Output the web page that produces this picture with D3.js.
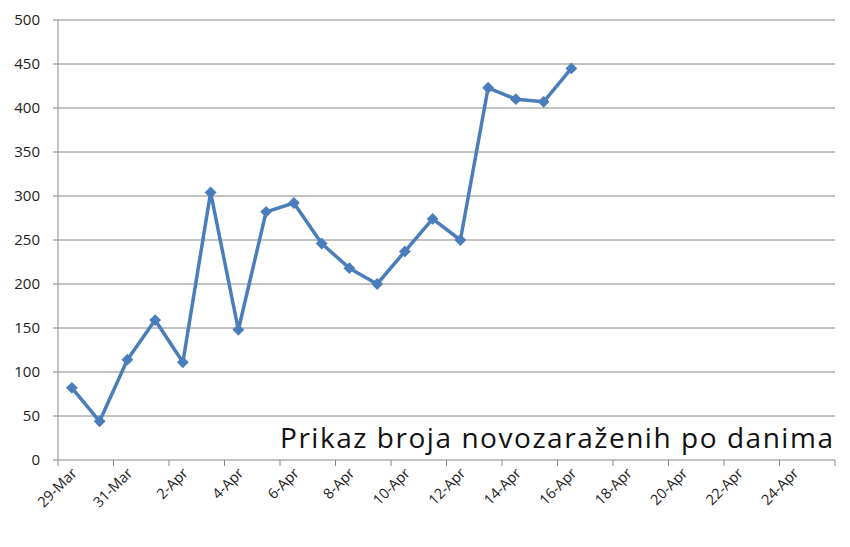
<!DOCTYPE html><html><head><meta charset="utf-8">
<script src="https://cdn.jsdelivr.net/npm/d3@7"></script>
<style>body{margin:0;background:#fff}text{font-family:"Open Sans",sans-serif}</style></head><body>
<svg id="c" width="850" height="547"></svg>
<script>
const categories=["29-Mar","30-Mar","31-Mar","1-Apr","2-Apr","3-Apr","4-Apr","5-Apr","6-Apr","7-Apr","8-Apr","9-Apr","10-Apr","11-Apr","12-Apr","13-Apr","14-Apr","15-Apr","16-Apr","17-Apr","18-Apr","19-Apr","20-Apr","21-Apr","22-Apr","23-Apr","24-Apr","25-Apr"];
const values=[82,44,114,159,111,304,148,282,292,246,218,200,237,274,250,423,410,407,445];
const yTicks=[0,50,100,150,200,250,300,350,400,450,500];
const title="Prikaz broja novozaraženih po danima";
const svg=d3.select("#c");
const L=58,R=835,T=20,B=460;
const x=d3.scaleBand().domain(categories).range([L,R]);
const y=d3.scaleLinear().domain([0,500]).range([B,T]);
svg.append("g").selectAll("line").data(yTicks).join("line").attr("x1",L).attr("x2",R).attr("y1",d=>y(d)).attr("y2",d=>y(d)).attr("stroke","#868686").attr("stroke-width",1);
svg.append("line").attr("x1",L).attr("x2",L).attr("y1",T).attr("y2",B).attr("stroke","#868686");
svg.append("g").selectAll("line").data(yTicks).join("line").attr("x1",L-5).attr("x2",L).attr("y1",d=>y(d)).attr("y2",d=>y(d)).attr("stroke","#868686");
svg.append("g").selectAll("text").data(yTicks).join("text").attr("x",L-18).attr("y",d=>y(d)+5).attr("text-anchor","end").attr("font-size",15).attr("fill","#222").text(d=>d);
const lab=categories.filter((d,i)=>i%2==0);
svg.append("g").selectAll("line").data(lab.concat(["end"])).join("line").attr("x1",(d,i)=>L+i*2*x.bandwidth()).attr("x2",(d,i)=>L+i*2*x.bandwidth()).attr("y1",B).attr("y2",B+6).attr("stroke","#868686");
svg.append("g").selectAll("text").data(lab).join("text").attr("transform",d=>`translate(${x(d)+x.bandwidth()/2+6},${B+14}) rotate(-45)`).attr("text-anchor","end").attr("font-size",14.5).attr("fill","#222").text(d=>d);
const data=values.map((v,i)=>({c:categories[i],v}));
const cx=d=>x(d.c)+x.bandwidth()/2;
svg.append("path").datum(data).attr("d",d3.line().x(cx).y(d=>y(d.v))).attr("fill","none").attr("stroke","#4a7ebb").attr("stroke-width",3.5).attr("stroke-linejoin","round");
svg.append("g").selectAll("path").data(data).join("path").attr("d",d3.symbol(d3.symbolSquare,70)).attr("transform",d=>`translate(${cx(d)},${y(d.v)}) rotate(45)`).attr("fill","#4a7ebb");
svg.append("text").attr("x",280).attr("y",448).attr("font-size",28).attr("textLength",553).attr("fill","#111").text(title);
</script></body></html>
